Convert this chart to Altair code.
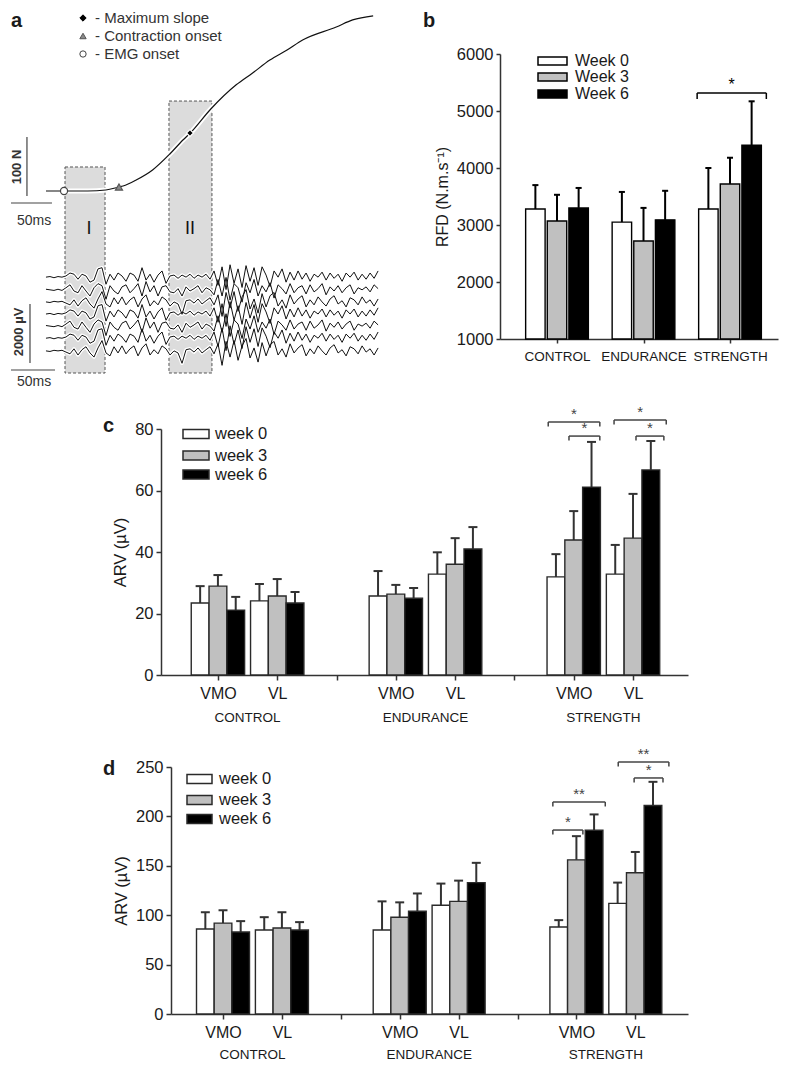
import altair as alt
import pandas as pd

FONT = "Liberation Sans"
INK = "#1a1a1a"
AXC = "#333333"
CW, CH = 771, 1053  # drawing area (page minus 8px margins)

# ------------------------------------------------------------------
# Panel a : schematic force / EMG traces (time in ms, force in N)
# ------------------------------------------------------------------
force_t_ms = [0, 51, 73, 89, 94, 110, 130, 151, 167, 176, 201, 232, 252, 273, 294, 313, 354, 374, 399]
force_N = [0, 0, 1.7, 6.8, 8.5, 18.6, 35.6, 62.7, 86.4, 98.3, 139, 180, 200, 222, 239, 256, 278, 290, 297]

emg_step_ms = 4.88
emg_A = [0, 20, -20, 20, 0, 40, 140, 100, -70, 100, 40, -170, -100, 280, 320, -240, 100, -100, 140, 40,
         -140, 140, 70, -140, 320, -100, 100, -170, 70, 210, -210, 40, 70, -40, 70, 0, 100, -40, 70, 0,
         100, -70, 210, -280, 350, -420, 420, -210, 280, -350, 390, -140, 320, -280, 350, 70, -320, 210, 0, 280,
         -170, 170, -100, 210, -70, 140, -140, 100, 0, 170, -100, 140, -40, 100, -140, 140, 0, 170, -100, 100,
         -70, 140, -40, 210]
emg_B = [0, -20, 20, 0, 20, -40, -100, 70, -140, 40, 140, -70, -210, 100, 350, -70, -170, 140, -70, 170,
         -100, 70, 170, -170, 100, 240, -140, 40, -100, 170, 70, -140, 0, -70, -420, 40, 70, -40, 100, -70,
         40, 140, -100, 240, -490, 320, -210, 350, -320, 170, 420, -240, 100, -380, 280, -170, 210, 320, -140, 70,
         -210, 240, -70, 100, 210, -170, 70, -100, 170, 0, -140, 100, 210, -70, 40, -170, 140, 70, -100, 170,
         -40, 70, -140, 100]
emg_C = [20, 0, -20, 20, -20, 70, 170, -40, -100, 140, -40, -210, 70, 210, 140, -320, 140, -40, -140, 100,
         170, -100, 40, 210, -210, 280, -70, 140, -210, 100, 140, -70, -100, 40, -210, 100, -40, 40, 140, -100,
         70, 0, -170, 350, -210, 420, -350, 210, 70, -420, 240, -100, 350, -210, 140, -70, 240, -280, 170, 40,
         -140, 210, -100, 70, 140, -140, 170, -70, 40, 210, -170, 100, -40, 140, -100, 70, 170, -140, 70, 0,
         100, -70, 170, 40]
emg_patterns = {"A": emg_A, "B": emg_B, "C": emg_C}
emg_offsets_uV = [-2920, -3350, -3760, -4170, -4580, -4990, -5420]
emg_trace_pattern = ["A", "C", "B", "A", "C", "A", "B"]
UV_PER_N = 20.0  # 2000 uV bar has the same length as the 100 N bar

windows = ["I", "II"]
window_t0 = [23.2, 150.0]
window_t1 = [72.0, 202.4]
window_ftop = [40.7, 152.5]
window_fbot = [-308.5, -308.5]
window_label_t = [52.4, 175.6]
window_label_f = [-64.4, -64.4]

events = ["EMG onset", "Contraction onset", "Maximum slope"]
event_t = [22, 89, 175.6]
event_f = [0, 6.8, 98.3]
event_shape = ["circle", "triangle-up", "diamond"]
event_fill = ["white", "#8a8a8a", "black"]
event_stroke = ["#444444", "#555555", "white"]
legend_a_labels = ["- Maximum slope", "- Contraction onset", "- EMG onset"]
legend_a_shape = ["diamond", "triangle-up", "circle"]
legend_a_fill = ["black", "#8a8a8a", "white"]
legend_a_stroke = ["black", "#555555", "#444444"]

bar_t1 = [-23.2, -42.7, -19.5, -42.7]
bar_t2 = [-23.2, 7.3, -19.5, 11.0]
bar_f1 = [-8.5, -20.3, -291.5, -303.4]
bar_f2 = [91.5, -20.3, -191.5, -303.4]
bar_text = ["100 N", "50ms", "2000 \u00b5V", "50ms"]
bar_text_t = [-35.5, -14.6, -33.0, -14.6]
bar_text_f = [40.7, -50.8, -239.0, -323.7]
bar_text_angle = [270, 0, 270, 0]
bar_text_bold = ["bold", "normal", "bold", "normal"]

# ------------------------------------------------------------------
# Panel b : RFD
# ------------------------------------------------------------------
groups_b = ["CONTROL", "ENDURANCE", "STRENGTH"]
weeks_b = ["Week 0", "Week 3", "Week 6"]
rfd_mean = [[3280, 3050, 3280], [3070, 2720, 3720], [3300, 3090, 4400]]
rfd_sd = [[420, 530, 720], [460, 580, 460], [350, 510, 770]]
b_brackets = [(2.62, 3.42, 5316, "*")]

# ------------------------------------------------------------------
# Panels c, d : ARV
# ------------------------------------------------------------------
muscles = ["VMO", "VL", "VMO", "VL", "VMO", "VL"]
muscle_pos = [1, 2, 4, 5, 7, 8]
groups = ["CONTROL", "ENDURANCE", "STRENGTH"]
group_pos = [1.5, 4.5, 7.5]
weeks_lc = ["week 0", "week 3", "week 6"]

c_mean = [[23.4, 24.1, 25.7, 32.8, 31.9, 32.8],
          [28.9, 25.7, 26.3, 36.0, 43.9, 44.5],
          [21.1, 23.4, 25.0, 41.0, 61.1, 66.7]]
c_sd = [[5.5, 5.5, 8.1, 7.1, 7.4, 9.5],
        [3.6, 5.5, 3.0, 8.5, 9.4, 14.4],
        [4.3, 3.6, 3.3, 7.1, 14.7, 9.4]]
c_brackets = [(6.57, 7.44, 82.3, "*"), (6.92, 7.44, 77.7, "*"),
              (7.68, 8.56, 82.9, "*"), (8.05, 8.52, 77.7, "*")]

d_mean = [[86, 85, 85, 110, 88, 112],
          [92, 87, 98, 114, 156, 143],
          [83, 85, 104, 133, 186, 211]]
d_sd = [[17, 13, 29, 22, 7, 21],
        [13, 16, 15, 21, 24, 21],
        [11, 8, 18, 20, 16, 24]]
d_brackets = [(6.60, 7.11, 186.2, "*"), (6.60, 7.49, 214.6, "**"),
              (7.71, 8.57, 255.0, "**"), (7.98, 8.47, 238.9, "*")]

FILLS = ["white", "#c0c0c0", "black"]


def one(**kw):
    return pd.DataFrame({k: [v] for k, v in kw.items()})


def text_at(s, x, y, size, weight="normal", align="left", color=INK, baseline="middle"):
    return alt.Chart(one(s=s)).mark_text(font=FONT, fontSize=size, fontWeight=weight, align=align,
                                         baseline=baseline, color=color).encode(
        x=alt.value(x), y=alt.value(y), text="s:N")


def legend_layers(labels, box_x1, box_x2, rows_y, box_h, text_x, size, stroke):
    out = []
    for lab, col, yy in zip(labels, FILLS, rows_y):
        d = one(label=lab)
        out.append(alt.Chart(d).mark_rect(fill=col, stroke=stroke, strokeWidth=1.5).encode(
            x=alt.value(box_x1), x2=alt.value(box_x2), y=alt.value(yy - box_h / 2), y2=alt.value(yy + box_h / 2)))
        out.append(alt.Chart(d).mark_text(font=FONT, fontSize=size, align="left", baseline="middle",
                                          color=INK).encode(x=alt.value(text_x), y=alt.value(yy), text="label:N"))
    return out


def bar_panel_layers(df, X, Y, fill, stroke_col, err_col, err_w, brackets, drop, star_size, star_col):
    layers = [
        alt.Chart(df).mark_rule(color=err_col, strokeWidth=err_w).encode(x=X("pos"), y=Y("mean"), y2="top"),
        alt.Chart(df).mark_rule(color=err_col, strokeWidth=err_w).encode(x=X("c1"), x2="c2", y=Y("top")),
        alt.Chart(df).mark_rect(stroke=stroke_col, strokeWidth=1.4).encode(
            x=X("x1"), x2="x2", y=Y("mean"), y2="base", fill=fill),
    ]
    bdf = pd.DataFrame([dict(x1=a, x2=b, lev=l, lo=l - drop, mid=(a + b) / 2, s=s) for a, b, l, s in brackets])
    layers += [
        alt.Chart(bdf).mark_rule(color=star_col, strokeWidth=1.5).encode(x=X("x1"), x2="x2", y=Y("lev")),
        alt.Chart(bdf).mark_rule(color=star_col, strokeWidth=1.5).encode(x=X("x1"), y=Y("lev"), y2="lo"),
        alt.Chart(bdf).mark_rule(color=star_col, strokeWidth=1.5).encode(x=X("x2"), y=Y("lev"), y2="lo"),
        alt.Chart(bdf).mark_text(font=FONT, fontSize=star_size, color=star_col, dy=-8).encode(
            x=X("mid"), y=Y("lev"), text="s:N"),
    ]
    return layers


def axes_pair(xvals, xlabels, xsize, xlabpad, xtick, yvals, ytitle, ytitle_pad, ylabsize, ytitlesize,
              xleft, ybottom):
    xaxis = alt.Axis(values=xvals, labelExpr=xlabels, orient="bottom", offset=-(CH - ybottom),
                     title=None, grid=False, domainColor=AXC, domainWidth=1.5, tickColor=AXC, tickWidth=1.5,
                     tickSize=xtick, labelFont=FONT, labelFontSize=xsize, labelColor=INK, labelPadding=xlabpad,
                     labelFlush=False, labelOverlap=False)
    yaxis = alt.Axis(values=yvals, format="d", title=ytitle, orient="left", offset=-xleft,
                     titleFont=FONT, titleFontSize=ytitlesize, titleFontWeight="normal", titleColor=INK,
                     titlePadding=ytitle_pad, labelFont=FONT, labelFontSize=ylabsize, labelColor=INK,
                     labelPadding=3, tickSize=xtick, tickColor=AXC, tickWidth=1.5, domainColor=AXC,
                     domainWidth=1.5, grid=False, labelFlush=False)
    return xaxis, yaxis


# ---------------- panel a (row 1 shifted 7px down, 3px right) ----------------
def panel_a():
    xs = alt.Scale(domain=[-45.1, 423.2], range=[1, 385], nice=False, zero=False)
    ys = alt.Scale(domain=[-333.9, 306.8], range=[380, 2], nice=False, zero=False)

    def X(f):
        return alt.X(f, type="quantitative", scale=xs, axis=None)

    def Y(f):
        return alt.Y(f, type="quantitative", scale=ys, axis=None)

    force_df = pd.DataFrame({"t": force_t_ms, "f": force_N})
    rows = []
    for k, (off, pat) in enumerate(zip(emg_offsets_uV, emg_trace_pattern)):
        for i, v in enumerate(emg_patterns[pat]):
            rows.append({"trial": k, "t": i * emg_step_ms, "f": (off + v) / UV_PER_N})
    emg_df = pd.DataFrame(rows)
    win_df = pd.DataFrame({"w": windows, "t0": window_t0, "t1": window_t1, "ft": window_ftop,
                           "fb": window_fbot, "lt": window_label_t, "lf": window_label_f})
    sb_df = pd.DataFrame({"t1": bar_t1, "t2": bar_t2, "f1": bar_f1, "f2": bar_f2})

    layers = [
        alt.Chart(win_df).mark_rect(fill="#dcdcdc", stroke="#555555", strokeDash=[3, 2], strokeWidth=1).encode(
            x=X("t0"), x2="t1", y=Y("ft"), y2="fb"),
        alt.Chart(emg_df).mark_line(color="white", strokeWidth=3.5, strokeJoin="round").encode(
            x=X("t"), y=Y("f"), detail="trial:N", order="t:Q"),
        alt.Chart(force_df).mark_line(color="white", strokeWidth=5, interpolate="monotone").encode(
            x=X("t"), y=Y("f")),
        alt.Chart(emg_df).mark_line(color="#111111", strokeWidth=1).encode(
            x=X("t"), y=Y("f"), detail="trial:N", order="t:Q"),
        alt.Chart(force_df).mark_line(color="#111111", strokeWidth=1.2, interpolate="monotone").encode(
            x=X("t"), y=Y("f")),
        alt.Chart(win_df).mark_text(font=FONT, fontSize=18, color="#111111").encode(
            x=X("lt"), y=Y("lf"), text="w:N"),
        alt.Chart(sb_df).mark_rule(color="#444444", strokeWidth=1.2).encode(
            x=X("t1"), x2="t2", y=Y("f1"), y2="f2"),
    ]
    for ev, t, f, sh, fi, st in zip(events, event_t, event_f, event_shape, event_fill, event_stroke):
        layers.append(alt.Chart(one(ev=ev, t=t, f=f)).mark_point(
            shape=sh, filled=True, fill=fi, stroke=st, strokeWidth=1.2, size=50, opacity=1).encode(
            x=X("t"), y=Y("f")))
    for s, t, f, ang, wt in zip(bar_text, bar_text_t, bar_text_f, bar_text_angle, bar_text_bold):
        layers.append(alt.Chart(one(s=s, t=t, f=f)).mark_text(
            font=FONT, fontSize=13 if wt == "bold" else 14, fontWeight=wt, angle=ang, color="#333333").encode(
            x=X("t"), y=Y("f"), text="s:N"))
    for lab, sh, fi, st, yy in zip(legend_a_labels, legend_a_shape, legend_a_fill, legend_a_stroke, [10, 28, 46]):
        layers.append(alt.Chart(one(s=lab)).mark_point(
            shape=sh, filled=True, fill=fi, stroke=st, strokeWidth=1, size=40, opacity=1).encode(
            x=alt.value(75), y=alt.value(yy)))
        layers.append(text_at(lab, 87, yy, 15, color="#333333"))
    layers.append(text_at("a", 3, 13, 20, weight="bold"))
    return alt.layer(*layers)


# ---------------- panel b (row 1 shifted 7px down) ----------------
def panel_b():
    left, right, top, bottom = 492, 770, 46, 331
    lo = 0.341
    xs = alt.Scale(domain=[lo, lo + (right - left) / 86.5], range=[left, right], nice=False, zero=False)
    ys = alt.Scale(domain=[1000, 6000], range=[bottom, top], nice=False, zero=False)
    offs = [-0.25, 0.0, 0.25]
    half, cap = 0.1125, 0.035
    rows = []
    for w, wk in enumerate(weeks_b):
        for g in range(3):
            p = g + 1 + offs[w]
            rows.append(dict(week=wk, pos=p, x1=p - half, x2=p + half, mean=rfd_mean[w][g],
                             top=rfd_mean[w][g] + rfd_sd[w][g], c1=p - cap, c2=p + cap, base=1000))
    df = pd.DataFrame(rows)
    xaxis, yaxis = axes_pair([1, 2, 3], "['', 'CONTROL', 'ENDURANCE', 'STRENGTH'][datum.value]", 13.5, 6, 4,
                             [1000, 2000, 3000, 4000, 5000, 6000], "RFD (N.m.s\u207b\u00b9)", 6, 16.5, 16,
                             left, bottom)

    def X(f):
        return alt.X(f, type="quantitative", scale=xs, axis=xaxis)

    def Y(f):
        return alt.Y(f, type="quantitative", scale=ys, axis=yaxis)

    fill = alt.Fill("week:N", scale=alt.Scale(domain=weeks_b, range=FILLS), legend=None)
    drop = 6 * 5000 / (bottom - top)
    layers = bar_panel_layers(df, X, Y, fill, "black", "black", 2, b_brackets, drop, 16, "black")
    layers += legend_layers(weeks_b, 530, 559, [53, 69, 86], 8, 567, 16, "black")
    layers.append(text_at("b", 415, 13, 20, weight="bold"))
    return alt.layer(*layers)


# ---------------- panels c / d ----------------
def arv_panel(letter, means, sds, x_lo, px_per_unit, left, right, top, bottom, ymax, ystep,
              legend_rows, box_x1, box_x2, text_x, letter_xy, brackets, group_y):
    xs = alt.Scale(domain=[x_lo, x_lo + (right - left) / px_per_unit], range=[left, right], nice=False,
                   zero=False)
    ys = alt.Scale(domain=[0, ymax], range=[bottom, top], nice=False, zero=False)
    offs = [-0.3, 0.0, 0.3]
    half, cap = 0.15, 0.076
    rows = []
    for w, wk in enumerate(weeks_lc):
        for i in range(6):
            p = muscle_pos[i] + offs[w]
            rows.append(dict(week=wk, pos=p, x1=p - half, x2=p + half, mean=means[w][i],
                             top=means[w][i] + sds[w][i], c1=p - cap, c2=p + cap, base=0))
    df = pd.DataFrame(rows)
    xaxis, yaxis = axes_pair([1, 2, 3, 4, 5, 6, 7, 8],
                             "['', 'VMO', 'VL', '', 'VMO', 'VL', '', 'VMO', 'VL'][datum.value]", 16, 5, 5,
                             list(range(0, ymax + 1, ystep)), "ARV (\u00b5V)", 6, 16.5, 16.5, left, bottom)

    def X(f):
        return alt.X(f, type="quantitative", scale=xs, axis=xaxis)

    def Y(f):
        return alt.Y(f, type="quantitative", scale=ys, axis=yaxis)

    fill = alt.Fill("week:N", scale=alt.Scale(domain=weeks_lc, range=FILLS), legend=None)
    drop = 4.5 * ymax / (bottom - top)
    layers = bar_panel_layers(df, X, Y, fill, "#2a2a2a", "#333333", 2, brackets, drop, 15, "#444444")
    gdf = pd.DataFrame({"g": groups, "gp": group_pos})
    layers.append(alt.Chart(gdf).mark_text(font=FONT, fontSize=13.5, color=INK).encode(
        x=X("gp"), y=alt.value(group_y), text="g:N"))
    layers += legend_layers(weeks_lc, box_x1, box_x2, legend_rows, 9, text_x, 16.5, "#2a2a2a")
    layers.append(text_at(letter, letter_xy[0], letter_xy[1], 20, weight="bold"))
    return alt.layer(*layers)


a = panel_a()
b = panel_b()
c = arv_panel("c", c_mean, c_sd, 0.04, 59.3, 153, 680, 421, 667, 80, 20, [426, 447.5, 466.5], 175, 201, 207,
              (95, 418), c_brackets, 710)
d = arv_panel("d", d_mean, d_sd, 0.117, 58.9, 163, 680, 759, 1006, 250, 50, [771, 792, 811], 179, 204, 211,
              (95, 761), d_brackets, 1047)

chart = (
    alt.layer(a, b, c, d)
    .resolve_scale(x="independent", y="independent", fill="independent")
    .resolve_axis(x="independent", y="independent")
    .properties(width=CW, height=CH, autosize=alt.AutoSizeParams(type="none"), padding=0)
    .configure_view(stroke=None)
)
chart.save("out.html", embed_options={"renderer": "svg", "actions": False})
